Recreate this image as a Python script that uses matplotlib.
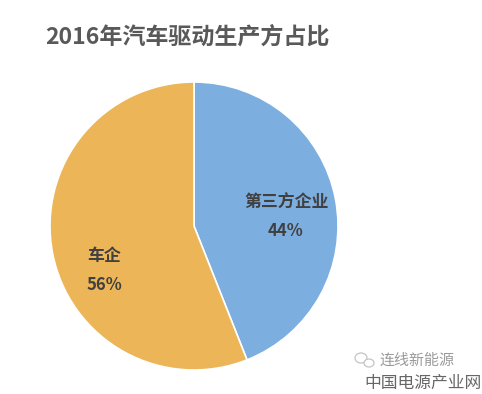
import matplotlib
matplotlib.use("Agg")
import matplotlib.pyplot as plt
from matplotlib.patches import Ellipse

plt.rcParams['font.family'] = ['Noto Sans CJK SC', 'DejaVu Sans']

labels = ["第三方企业", "车企"]
shares = [44, 56]
colors = ["#7CAEE0", "#ECB658"]
H = 394

fig = plt.figure(figsize=(4.82, 3.94), dpi=100)
ax = fig.add_axes([0, 0, 1, 1])

ax.pie(shares, colors=colors, startangle=90, counterclock=False, center=(194, H - 226), radius=144,
       wedgeprops=dict(edgecolor="white", linewidth=1.2), frame=True)
ax.set_xlim(0, 482)
ax.set_ylim(0, H)
ax.set_aspect("equal")
ax.axis("off")

ax.text(45, H - 37, "2016年汽车驱动生产方占比", fontsize=16.6, fontweight="bold", color="#595959", va="center", ha="left")
ax.text(286.5, H - 203, labels[0], fontsize=12.2, fontweight="bold", color="#404040", va="center", ha="center")
ax.text(286, H - 231, "%d%%" % shares[0], fontsize=12, fontweight="bold", color="#404040", va="center", ha="center")
ax.text(104, H - 256, labels[1], fontsize=12.2, fontweight="bold", color="#404040", va="center", ha="center")
ax.text(104, H - 285, "%d%%" % shares[1], fontsize=12, fontweight="bold", color="#404040", va="center", ha="center")

# watermark
ax.add_patch(Ellipse((361, H - 358), 12, 10, fill=False, edgecolor="#c4c4c4", linewidth=0.9))
ax.add_patch(Ellipse((369, H - 363), 10, 8, facecolor="white", edgecolor="#c4c4c4", linewidth=0.9))
ax.text(417, H - 361, "连线新能源", fontsize=10.8, color="#9a9a9a", va="center", ha="center")
ax.text(423, H - 383, "中国电源产业网", fontsize=12.1, color="#666666", va="center", ha="center")

fig.savefig("out.png", dpi=100)
